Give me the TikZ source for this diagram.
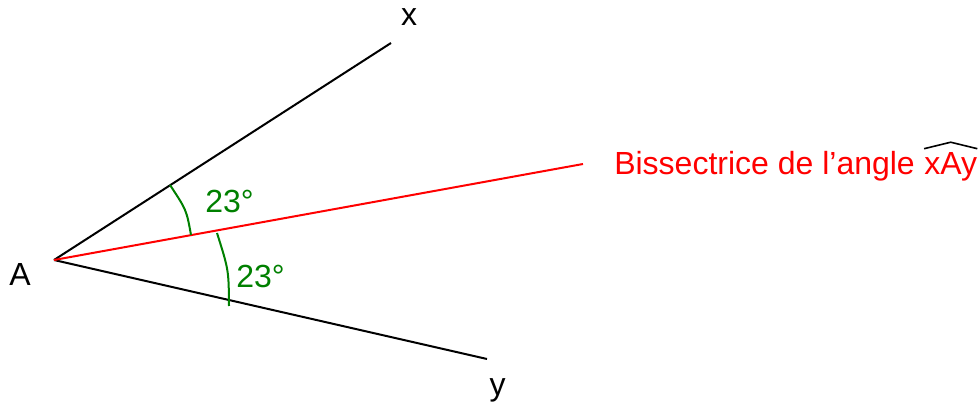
\documentclass[tikz,border=0pt]{standalone}
\usepackage{fontspec}
\setmainfont{Liberation Sans}
\usetikzlibrary{positioning, calc}
\definecolor{angleGreen}{RGB}{0,128,0}
\tikzset{
  side/.style={line width=1.5pt, black},
  bisector/.style={line width=1.5pt, red},
  anglemark/.style={line width=1.5pt, angleGreen},
  lbl/.style={inner sep=0pt, font=\fontsize{24pt}{29pt}\selectfont},
}

\begin{document}
\begin{tikzpicture}[x=0.75pt, y=-0.75pt]
  \useasboundingbox (0,0) rectangle (980,402);
  % points
  \coordinate (A) at (54,260);
  \coordinate (X) at (391,43);
  \coordinate (Y) at (487,359);
  \coordinate (B) at (583,164);
  % sides and bisector
  \draw[side] (A) -- (X);
  \draw[side] (A) -- (Y);
  \draw[bisector] (A) -- (B);
  % angle marks
  \draw[anglemark] (170,185) .. controls (186.5,210) .. (191,235);
  \draw[anglemark] (217,233) .. controls (228.7,270) .. (229,306);
  \node[lbl, angleGreen, anchor=base west] (a1) at (205,213) {23°};
  \node[lbl, angleGreen, anchor=base west] (a2) at (236,287) {23°};
  % labels
  \node[lbl, anchor=base] (lx) at (409,26) {x};
  \node[lbl, anchor=base] (ly) at (497.5,395) {y};
  \node[lbl, anchor=base] (la) at (20,286) {A};
  \node[lbl, red, anchor=base west] (bis) at (614,174.5) {Bissectrice de l’angle};
  \node[lbl, red, base right=6.7pt of bis] (xay) {xAy};
  \draw[line width=1.2pt] ($(xay.north west)+(0,-3.5)$) -- ($(xay.north)+(0,-10)$)
    -- ($(xay.north east)+(0,-3.5)$);
\end{tikzpicture}
\end{document}
